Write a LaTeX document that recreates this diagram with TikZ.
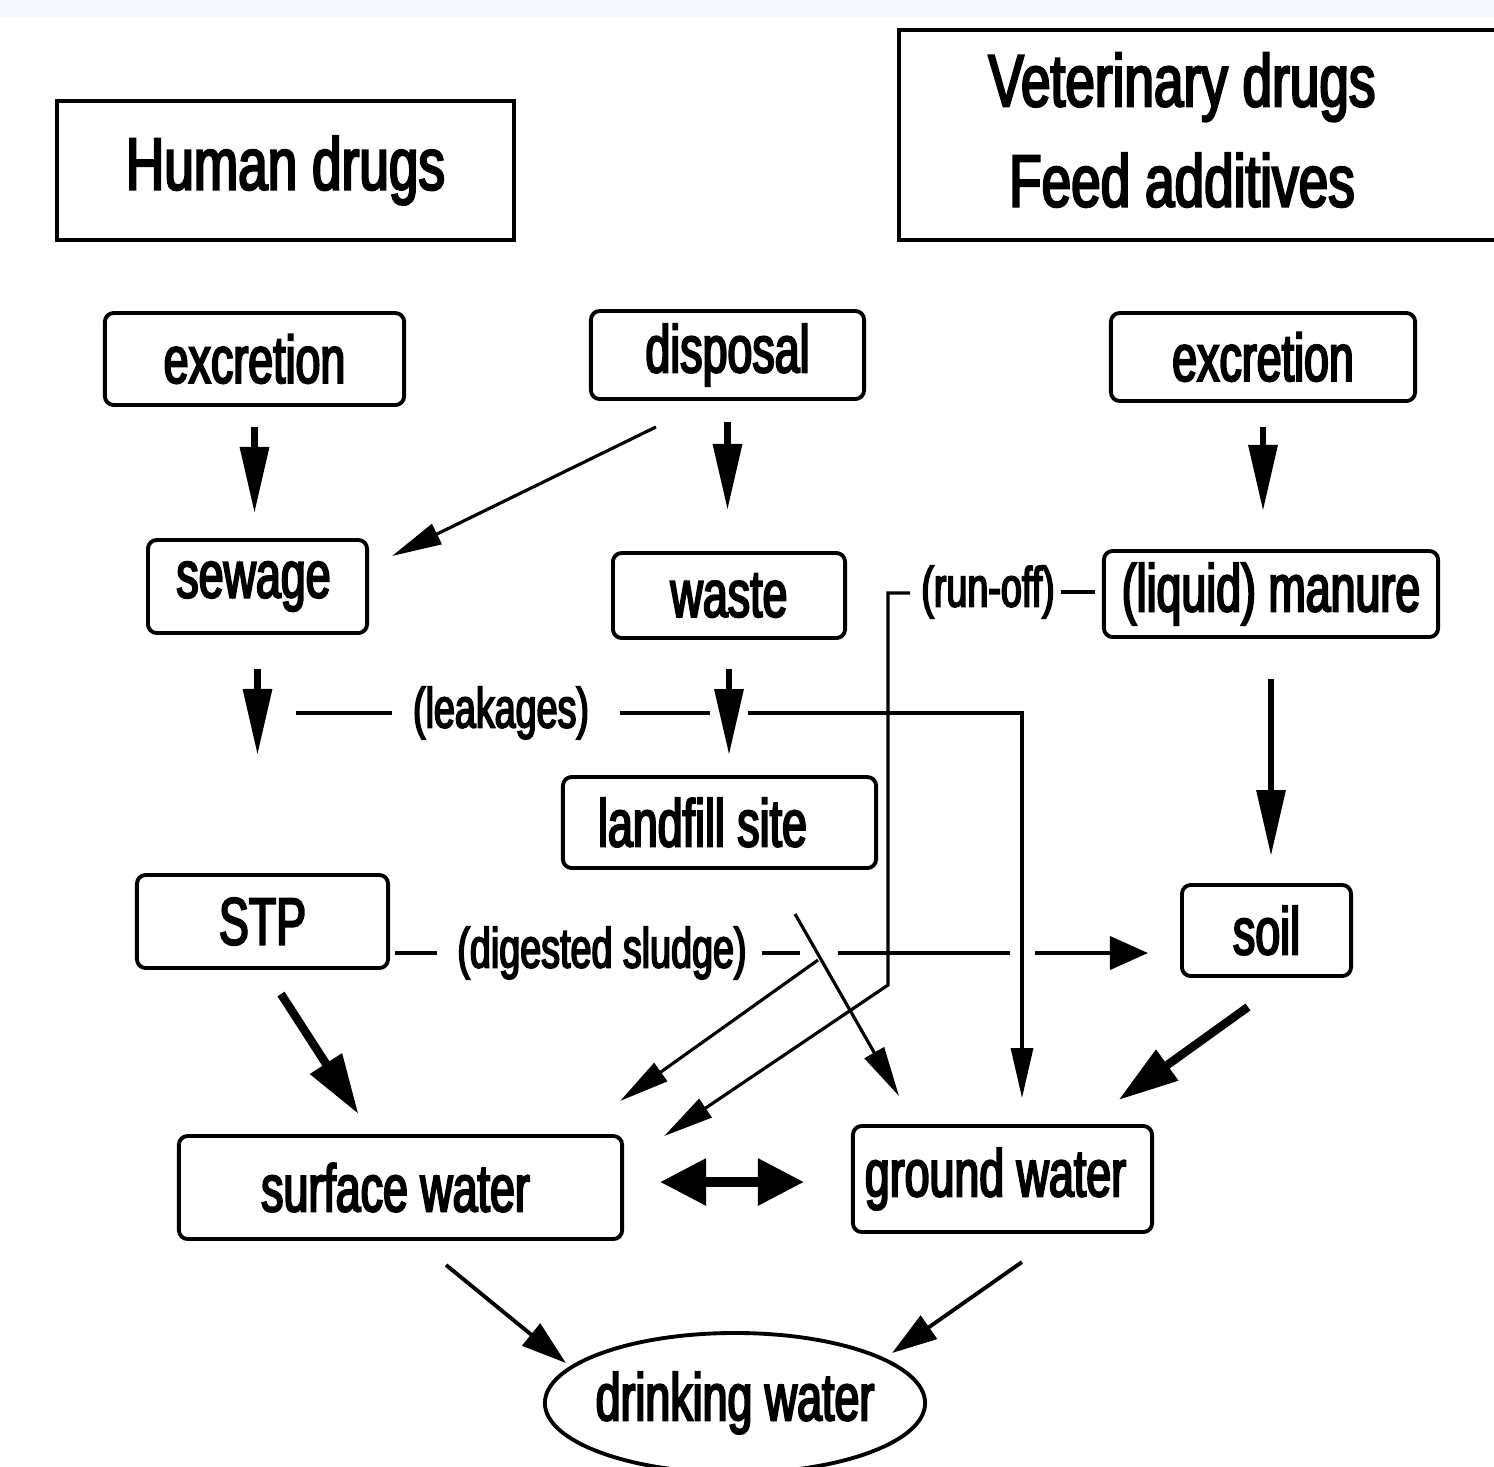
\documentclass[tikz,border=0pt]{standalone}
\usepackage{fontspec}
\setmainfont{Liberation Sans}[FakeStretch=0.67,FakeBold=3]
\newfontfamily\hdrfont{Liberation Sans}[FakeStretch=0.72,FakeBold=3]
\usetikzlibrary{arrows.meta,shapes.geometric}
\begin{document}
\begin{tikzpicture}[x=0.01cm,y=-0.01cm,
  box/.style={draw,line width=1.1pt,rounded corners=2.5pt,inner sep=0pt,font=\fontsize{19}{22}\selectfont},
  hdr/.style={font=\hdrfont\fontsize{21}{28.5}\selectfont,inner sep=0pt},
  lbl/.style={font=\fontsize{16}{19}\selectfont,inner sep=0pt},
  ln/.style={line width=1.1pt},
  varrow/.style={line width=1.8pt,-{Triangle[length=0.66cm,width=0.28cm]}},
  tarrow/.style={line width=0.9pt,-{Triangle[length=0.5cm,width=0.22cm]}},
  sarrow/.style={line width=1.1pt,-{Triangle[length=0.38cm,width=0.33cm]}},
  karrow/.style={line width=2.4pt,-{Triangle[length=0.6cm,width=0.36cm]}},
  darrow/.style={line width=2.6pt,{Triangle[length=0.46cm,width=0.45cm]}-{Triangle[length=0.46cm,width=0.45cm]}},
  warrow/.style={line width=1.1pt,-{Triangle[length=0.45cm,width=0.28cm]}}
]
\useasboundingbox (0,0) rectangle (1494,1466);
\fill[blue!3] (0,0) rectangle (1494,17);

% header boxes
\node[hdr,draw,line width=1.3pt,minimum width=4.57cm,minimum height=1.39cm] (hd) at (285.5,170.5) {Human drugs};
\draw[line width=1.3pt] (1520,30) -- (899,30) -- (899,240) -- (1520,240);
\node[hdr,align=center] (vd) at (1182,130) {Veterinary drugs\\Feed additives};

% boxes
\node[box,minimum width=2.99cm,minimum height=0.92cm] (exL) at (254.5,359) {excretion};
\node[box,minimum width=2.73cm,minimum height=0.88cm] (disp) at (727.5,355) {disposal};
\node[box,minimum width=3.04cm,minimum height=0.88cm] (exR) at (1263,357) {excretion};
\node[box,minimum width=2.19cm,minimum height=0.93cm] (sew) at (257.5,586.5) {sewage\hspace*{0.08cm}};
\node[box,minimum width=2.32cm,minimum height=0.85cm] (waste) at (729,595.5) {waste};
\node[box,minimum width=3.34cm,minimum height=0.86cm] (man) at (1271,594) {(liquid) manure};
\node[box,minimum width=3.13cm,minimum height=0.91cm] (land) at (719.5,822.5) {landfill site\hspace*{0.34cm}};
\node[box,minimum width=2.51cm,minimum height=0.93cm] (stp) at (262.5,921.5) {STP};
\node[box,minimum width=1.69cm,minimum height=0.91cm] (soil) at (1266.5,930.5) {soil};
\node[box,minimum width=4.43cm,minimum height=1.03cm] (sw) at (400.5,1187.5) {surface water\hspace*{0.1cm}};
\node[box,minimum width=2.99cm,minimum height=1.06cm] (gw) at (1002.5,1179) {ground water\hspace*{0.14cm}};
\node[ellipse,draw,line width=1.1pt,inner sep=0pt,minimum width=3.8cm,minimum height=1.4cm,font=\fontsize{19}{22}\selectfont] (dw) at (735,1403) {\makebox[1.5cm]{drinking water}};

% labels
\node[lbl] (leak) at (501,713) {(leakages)};
\node[lbl] (runoff) at (988,592) {(run-off)};
\node[lbl] (sludge) at (602,953) {(digested sludge)};

% free points
\coordinate (lkA) at (296,713); \coordinate (lkB) at (392,713);
\coordinate (lkC) at (620,713); \coordinate (lkD) at (710,713);
\coordinate (lkE) at (748,713);
\coordinate (roA) at (910,593); \coordinate (roB) at (888,985);
\coordinate (sgA) at (395,953); \coordinate (sgB) at (437,953);
\coordinate (sgC) at (762,953); \coordinate (sgD) at (800,953);
\coordinate (sgE) at (838,953); \coordinate (sgF) at (1010,953);
\coordinate (sgG) at (1035,953);
\coordinate (brA) at (818,960);
\coordinate (dA) at ([xshift=0.36cm,yshift=0.055cm]sw.east);

% vertical arrows
\draw[varrow,shorten <=0.2cm,shorten >=0.25cm] (exL.south) -- (exL.south |- sew.north);
\draw[varrow,shorten <=0.21cm,shorten >=0.41cm] (disp.south) -- (disp.south |- waste.north);
\draw[varrow,shorten <=0.24cm,shorten >=0.38cm] (exR.south) -- (exR.south |- man.north);
\draw[varrow,shorten <=0.34cm,shorten >=1.18cm] (sew.south) -- (sew.south |- stp.north);
\draw[varrow,shorten <=0.29cm,shorten >=0.2cm] (waste.south) -- (waste.south |- land.north);
\draw[varrow,shorten <=0.4cm,shorten >=0.27cm] (man.south) -- (man.south |- soil.north);

% disposal -> sewage
\draw[tarrow] ([xshift=-0.715cm,yshift=-0.26cm]disp.south) -- ([xshift=0.23cm,yshift=0.305cm]sew.east);

% leakages
\draw[ln] (lkA) -- (lkB);
\draw[ln] (lkC) -- (lkD);
\draw[tarrow] (lkE) -| ([xshift=0.195cm,yshift=0.26cm]gw.north);

% run-off
\draw[ln] ([xshift=0.06cm]runoff.east) -- ([xshift=-0.07cm]man.west |- runoff);
\draw[tarrow] (roA) -| (roB) -- ([xshift=0.4cm,yshift=-0.02cm]sw.north east);

% digested sludge
\draw[ln] (sgA) -- (sgB);
\draw[ln] (sgC) -- (sgD);
\draw[ln] (sgE) -- (sgF);
\draw[sarrow] (sgG) -- ([xshift=-0.32cm]soil.west |- sgG);
\draw[tarrow] (brA) -- ([xshift=-0.04cm,yshift=0.33cm]sw.north east);

% landfill -> ground water
\draw[tarrow] ([xshift=0.755cm,yshift=-0.44cm]land.south) -- ([xshift=0.48cm,yshift=0.28cm]gw.north west);

% STP -> surface water, soil -> ground water
\draw[karrow] ([xshift=0.185cm,yshift=-0.24cm]stp.south) -- ([xshift=-0.42cm,yshift=0.2cm]sw.north);
\draw[karrow] ([xshift=-0.185cm,yshift=-0.29cm]soil.south) -- ([xshift=-0.355cm,yshift=0.24cm]gw.north east);

% surface <-> ground
\draw[darrow] (dA) -- ([xshift=-0.47cm]gw.west |- dA);

% to drinking water
\draw[warrow] ([xshift=0.455cm,yshift=-0.24cm]sw.south) -- ([xshift=-1.69cm,yshift=0.4cm]dw.center);
\draw[warrow] ([xshift=0.195cm,yshift=-0.28cm]gw.south) -- ([xshift=1.57cm,yshift=0.5cm]dw.center);
\end{tikzpicture}
\end{document}
